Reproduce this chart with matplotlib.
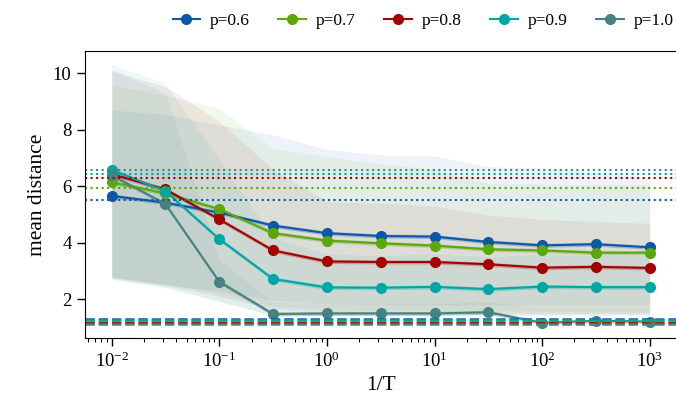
import matplotlib
matplotlib.use('Agg')
import matplotlib.pyplot as plt
import numpy as np

plt.rcParams['font.family'] = 'serif'
plt.rcParams['font.serif'] = ['Liberation Serif', 'DejaVu Serif']
plt.rcParams['mathtext.fontset'] = 'stix'

# inverse temperature values
inv_T = [0.01, 0.0316, 0.1, 0.316, 1, 3.16, 10, 31.6, 100, 316, 1000]

labels = ['p=0.6', 'p=0.7', 'p=0.8', 'p=0.9', 'p=1.0']
colors = ['#0b57a8', '#5aa80a', '#a50000', '#00a6a6', '#468282']

mean_06 = [5.66, 5.42, 5.07, 4.61, 4.34, 4.24, 4.22, 4.03, 3.91, 3.95, 3.84]
mean_07 = [6.14, 5.75, 5.19, 4.34, 4.08, 3.98, 3.90, 3.77, 3.73, 3.65, 3.65]
mean_08 = [6.43, 5.89, 4.83, 3.73, 3.34, 3.32, 3.32, 3.24, 3.12, 3.15, 3.11]
mean_09 = [6.58, 5.83, 4.13, 2.72, 2.42, 2.41, 2.44, 2.36, 2.45, 2.43, 2.43]
mean_10 = [6.39, 5.37, 2.62, 1.48, 1.50, 1.50, 1.50, 1.54, 1.17, 1.24, 1.21]

# spread of the runs (wide faint band)
upper_06 = [8.70, 8.55, 8.17, 7.82, 7.31, 7.11, 7.07, 6.70, 6.64, 6.50, 6.30]
lower_06 = [2.75, 2.50, 2.30, 1.95, 1.85, 1.82, 1.80, 1.80, 1.78, 1.78, 1.78]
upper_07 = [9.59, 9.23, 8.76, 7.35, 7.05, 6.80, 6.60, 6.10, 6.08, 6.05, 6.05]
lower_07 = [2.80, 2.55, 2.20, 1.75, 1.65, 1.62, 1.60, 1.60, 1.58, 1.58, 1.58]
upper_08 = [10.08, 9.53, 8.30, 6.60, 5.46, 5.40, 5.30, 4.98, 4.83, 4.75, 4.69]
lower_08 = [2.78, 2.50, 2.10, 1.65, 1.55, 1.52, 1.52, 1.50, 1.50, 1.50, 1.50]
upper_09 = [10.32, 9.65, 6.93, 4.20, 3.60, 3.55, 3.60, 3.50, 3.60, 3.55, 3.55]
lower_09 = [2.70, 2.40, 1.95, 1.42, 1.42, 1.42, 1.44, 1.42, 1.44, 1.44, 1.44]
upper_10 = [10.15, 9.30, 3.40, 1.90, 1.85, 1.85, 1.85, 1.90, 1.70, 1.72, 1.70]
lower_10 = [2.72, 2.45, 1.90, 1.44, 1.45, 1.45, 1.45, 1.46, 1.44, 1.44, 1.44]

# reference levels
dotted_levels = [5.50, 5.95, 6.28, 6.43, 6.57]
dashed_levels = [1.29, 1.21, 1.16, 1.25, 1.11]

means = [mean_06, mean_07, mean_08, mean_09, mean_10]
uppers = [upper_06, upper_07, upper_08, upper_09, upper_10]
lowers = [lower_06, lower_07, lower_08, lower_09, lower_10]

fig = plt.figure(figsize=(6.76, 3.97), dpi=100)
ax = fig.add_axes([84.8 / 676, 59 / 397, 591.8 / 676, 287.3 / 397])

for m, up, lo, c, lab in zip(means, uppers, lowers, colors, labels):
    m = np.array(m)
    ax.fill_between(inv_T, lo, up, color=c, alpha=0.07, linewidth=0)
    ax.fill_between(inv_T, m - 0.07, m + 0.07, color=c, alpha=0.3, linewidth=0)
    ax.plot(inv_T, m, '-o', color=c, lw=1.5, ms=7, label=lab)

for lvl, c in zip(dotted_levels, colors):
    ax.axhline(lvl, color=c, ls=':', lw=1.5)
for lvl, c in zip(dashed_levels, colors):
    ax.axhline(lvl, color=c, ls='--', lw=1.8)

ax.set_xscale('log')
ax.set_xlim(10 ** -2.25, 10 ** 3.25)
ax.set_ylim(0.63, 10.8)
ax.set_yticks([2, 4, 6, 8, 10])
ax.set_xlabel('1/T', fontsize=15.5)
ax.set_ylabel('mean distance', fontsize=15.5)
ax.tick_params(labelsize=13.5, direction='out', length=6, width=1)
ax.tick_params(which='minor', length=3, width=0.8)
for s in ax.spines.values():
    s.set_color('black')

ax.legend(loc='lower right', bbox_to_anchor=(1.012, 1.04), ncol=5, frameon=False,
          fontsize=12.5, handlelength=1.6, handletextpad=0.55, columnspacing=1.65,
          borderaxespad=0.2)

fig.savefig('out.png', dpi=100)
